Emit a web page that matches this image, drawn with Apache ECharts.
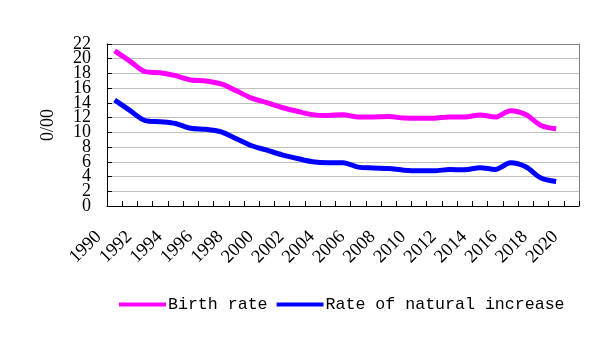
<!DOCTYPE html>
<html>
<head>
<meta charset="utf-8">
<script src="https://cdn.jsdelivr.net/npm/echarts@6/dist/echarts.min.js"></script>
<style>html,body{margin:0;padding:0;background:#fff}#c{width:608px;height:343px}</style>
</head>
<body>
<div id="c"></div>
<script>
var years = ['1990','1991','1992','1993','1994','1995','1996','1997','1998','1999','2000','2001','2002','2003','2004','2005','2006','2007','2008','2009','2010','2011','2012','2013','2014','2015','2016','2017','2018','2019','2020'];
var birthRate = [21.06,19.68,18.24,18.09,17.70,17.12,16.98,16.57,15.64,14.64,14.03,13.38,12.86,12.41,12.29,12.40,12.09,12.10,12.14,11.95,11.90,11.93,12.10,12.08,12.37,12.07,12.95,12.43,10.94,10.48,null];
var naturalIncrease = [14.39,12.98,11.60,11.45,11.21,10.55,10.42,10.06,9.14,8.18,7.58,6.95,6.45,6.01,5.87,5.89,5.28,5.17,5.08,4.87,4.79,4.79,4.95,4.92,5.21,4.96,5.86,5.32,3.81,3.34,null];
var yTicks = [0,2,4,6,8,10,12,14,16,18,20,22];
var seriesNames = ['Birth rate','Rate of natural increase'];

var yMin = yTicks[0], yMax = yTicks[yTicks.length-1];
var labelFont = {fontFamily:'Liberation Serif', fontSize:18, color:'#000'};

var chart = echarts.init(document.getElementById('c'), null, {renderer:'canvas'});
chart.setOption({
  animation: false,
  backgroundColor: '#fff',
  grid: {left:107, right:29, top:44, bottom:137, show:false},
  legend: {
    left: 114, top: 291,
    icon: 'rect', itemWidth: 47, itemHeight: 4, itemGap: 9,
    textStyle: {fontFamily:'Liberation Mono', fontSize:16.6, color:'#000', padding:[0,0,0,-3]},
    data: seriesNames
  },
  xAxis: [{
    type: 'category', data: years, boundaryGap: true,
    axisLine: {show:true, lineStyle:{color:'#000', width:1}},
    axisTick: {show:true, inside:true, length:5, interval:0, lineStyle:{color:'#000', width:1}},
    axisLabel: {show:true, interval:1, rotate:45, margin:12, padding:[0,22.6,0,0], fontFamily:'Liberation Serif', fontSize:18.5, color:'#000'},
    splitLine: {show:false}
  },{
    type: 'category', data: years, position:'top',
    axisLine: {show:true, onZero:false, lineStyle:{color:'#808080', width:1}},
    axisTick: {show:false}, axisLabel: {show:false}, splitLine: {show:false}
  }],
  yAxis: [{
    type: 'value', min: yMin, max: yMax, interval: 2,
    name: '0/00', nameLocation: 'middle', nameGap: 50, nameRotate: 90,
    nameTextStyle: {fontFamily:'Liberation Serif', fontSize:18, color:'#000'},
    axisLine: {show:true, lineStyle:{color:'#000', width:1}},
    axisTick: {show:false},
    axisLabel: Object.assign({show:true, showMinLabel:false, showMaxLabel:false, margin:16}, labelFont),
    splitLine: {show:true, lineStyle:{color:'#bfbfbf', width:1}}
  },{
    type: 'value', min: yMin, max: yMax, interval: 2, position:'right',
    axisLine: {show:true, onZero:false, lineStyle:{color:'#808080', width:1}},
    axisTick: {show:false}, axisLabel: {show:false}, splitLine: {show:false}
  },{
    type: 'value', min: yMin, max: yMax, interval: 2, position:'left', offset:0,
    axisLine: {show:false}, splitLine: {show:false},
    axisTick: {show:true, inside:true, length:5, lineStyle:{color:'#000', width:1}},
    axisLabel: Object.assign({show:true, showMinLabel:true, showMaxLabel:true, margin:16,
      formatter: function(v){ return (v === yMin || v === yMax) ? String(v) : ''; }}, labelFont)
  }],
  series: [
    {name: seriesNames[0], type:'line', data: birthRate, smooth:0.3, symbol:'none', lineStyle:{color:'#ff00ff', width:5}, itemStyle:{color:'#ff00ff'}},
    {name: seriesNames[1], type:'line', data: naturalIncrease, smooth:0.3, symbol:'none', lineStyle:{color:'#0000ff', width:5}, itemStyle:{color:'#0000ff'}}
  ]
});
</script>
</body>
</html>
